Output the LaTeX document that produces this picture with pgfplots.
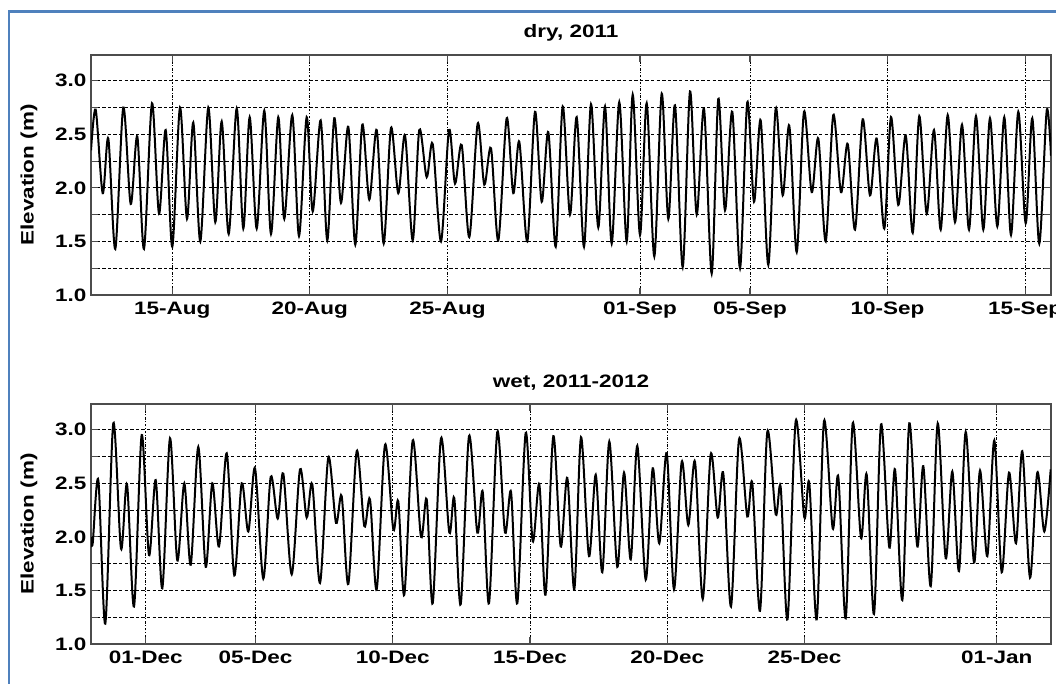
\documentclass[border=0pt]{standalone}
\usepackage{pgfplots}
\usepackage{pgfplotstable}
\pgfplotsset{compat=1.18}
\usepackage{fontspec}
\setmainfont{Liberation Sans}[FakeStretch=1.25]
\definecolor{frameblue}{RGB}{79,129,189}

% dry season 2011: days since 15-Aug-2011, elevation (m)
\pgfplotstableread{
t v
-2.955 2.35
-2.784 2.73
-2.530 1.95
-2.326 2.46
-2.072 1.43
-1.781 2.75
-1.512 1.85
-1.272 2.48
-1.029 1.43
-0.738 2.79
-0.483 1.76
-0.240 2.54
0.000 1.45
0.280 2.75
0.534 1.71
0.763 2.61
1.018 1.50
1.309 2.75
1.563 1.68
1.796 2.62
2.050 1.57
2.341 2.74
2.581 1.62
2.813 2.66
3.068 1.62
3.344 2.72
3.588 1.57
3.853 2.66
4.071 1.71
4.362 2.68
4.606 1.55
4.885 2.66
5.104 1.78
5.394 2.63
5.634 1.51
5.889 2.65
6.132 1.86
6.398 2.57
6.652 1.47
6.907 2.59
7.161 1.89
7.430 2.54
7.684 1.48
7.950 2.56
8.215 1.95
8.459 2.49
8.739 1.51
8.978 2.54
9.247 2.10
9.466 2.41
9.767 1.50
10.058 2.54
10.276 2.04
10.520 2.40
10.796 1.54
11.101 2.60
11.341 2.03
11.585 2.37
11.850 1.51
12.155 2.65
12.395 1.95
12.613 2.43
12.904 1.50
13.184 2.71
13.428 1.87
13.668 2.52
13.937 1.45
14.191 2.76
14.456 1.75
14.700 2.66
14.965 1.45
15.220 2.78
15.485 1.63
15.729 2.76
15.972 1.48
16.248 2.80
16.517 1.50
16.736 2.87
17.001 1.56
17.244 2.79
17.521 1.36
17.790 2.88
18.030 1.71
18.273 2.77
18.553 1.26
18.818 2.90
19.062 1.75
19.327 2.74
19.607 1.20
19.847 2.83
20.091 1.79
20.356 2.71
20.636 1.25
20.901 2.80
21.145 1.87
21.388 2.63
21.665 1.28
21.934 2.74
22.188 1.93
22.428 2.58
22.697 1.40
22.962 2.71
23.242 1.96
23.482 2.46
23.751 1.50
24.027 2.68
24.307 1.96
24.551 2.41
24.816 1.61
25.096 2.64
25.361 1.93
25.605 2.46
25.881 1.62
26.125 2.66
26.390 1.84
26.659 2.49
26.914 1.58
27.153 2.67
27.422 1.76
27.688 2.54
27.931 1.61
28.186 2.68
28.451 1.68
28.706 2.59
28.960 1.61
29.214 2.67
29.480 1.61
29.723 2.65
29.989 1.64
30.243 2.66
30.487 1.56
30.752 2.71
31.021 1.67
31.261 2.65
31.515 1.48
31.784 2.72
31.941 2.30
}\drytable

% wet season 2011-2012: days since 01-Dec-2011, elevation (m)
\pgfplotstableread{
t v
-1.993 2.00
-1.931 1.94
-1.727 2.53
-1.472 1.19
-1.180 3.06
-0.900 1.89
-0.681 2.49
-0.426 1.35
-0.146 2.95
0.120 1.83
0.364 2.53
0.605 1.52
0.885 2.92
1.151 1.78
1.406 2.50
1.639 1.74
1.916 2.84
2.186 1.72
2.426 2.50
2.670 1.91
2.951 2.78
3.228 1.64
3.497 2.50
3.738 2.05
3.982 2.64
4.284 1.61
4.554 2.56
4.809 2.17
5.013 2.59
5.319 1.65
5.621 2.63
5.865 2.18
6.069 2.49
6.350 1.57
6.652 2.74
6.933 2.13
7.140 2.38
7.381 1.56
7.687 2.80
7.964 2.10
8.171 2.35
8.415 1.51
8.718 2.86
9.020 2.07
9.202 2.33
9.421 1.46
9.727 2.90
10.029 2.00
10.237 2.35
10.455 1.38
10.758 2.92
11.060 2.04
11.242 2.36
11.475 1.37
11.778 2.94
12.080 2.04
12.277 2.42
12.506 1.38
12.809 2.98
13.089 2.04
13.308 2.42
13.537 1.38
13.843 2.97
14.098 1.96
14.339 2.49
14.565 1.46
14.849 2.94
15.118 1.91
15.359 2.55
15.614 1.51
15.858 2.93
16.149 1.82
16.394 2.58
16.634 1.67
16.889 2.89
17.180 1.72
17.425 2.60
17.669 1.79
17.909 2.85
18.215 1.60
18.470 2.64
18.710 1.94
18.980 2.78
19.246 1.51
19.526 2.70
19.767 2.11
20.011 2.70
20.292 1.42
20.583 2.77
20.838 2.18
21.042 2.59
21.322 1.35
21.614 2.91
21.916 2.19
22.098 2.50
22.379 1.31
22.645 2.98
22.951 2.21
23.133 2.46
23.381 1.23
23.680 3.08
23.993 2.18
24.175 2.50
24.445 1.23
24.710 3.08
25.027 2.08
25.231 2.56
25.501 1.24
25.756 3.06
26.058 1.99
26.266 2.58
26.532 1.28
26.787 3.05
27.090 1.90
27.297 2.63
27.563 1.41
27.818 3.06
28.109 1.91
28.328 2.66
28.598 1.54
28.853 3.06
29.144 1.80
29.384 2.61
29.629 1.68
29.873 2.98
30.175 1.76
30.394 2.62
30.659 1.82
30.914 2.90
31.184 1.67
31.450 2.60
31.705 1.94
31.934 2.80
32.215 1.62
32.481 2.60
32.736 2.05
32.969 2.63
}\wettable

\pgfplotsset{
  tidestyle/.style={
    scale only axis,
    width=720pt, height=180pt,
    anchor=south west,
    ymin=1, ymax=3.24,
    ytick={1,1.25,1.5,1.75,2,2.25,2.5,2.75,3},
    yticklabels={1.0,,1.5,,2.0,,2.5,,3.0},
    xmajorgrids, ymajorgrids,
    x grid style={black, line width=0.7pt, dash pattern=on 2pt off 1.2pt on 0.7pt off 1.2pt},
    y grid style={black, line width=0.75pt, dash pattern=on 2.6pt off 1.6pt},
    axis line style={black!70, line width=1pt},
    tick align=inside,
    tick pos=both,
    major tick length=5pt,
    tick style={black!70, line width=0.8pt},
    every tick label/.append style={font=\fontsize{13.5}{16}\selectfont\bfseries},
    xticklabel style={yshift=-1.5pt},
    title style={font=\fontsize{13.5}{16}\selectfont\bfseries, yshift=1pt},
    ylabel={Elevation (m)},
    every axis y label/.style={at={(axis description cs:0,0.5)}, xshift=-46.5pt, rotate=90, anchor=center, font=\fontsize{13.5}{16}\selectfont\bfseries},
  }
}

\begin{document}
\begin{tikzpicture}
\useasboundingbox (0pt,0pt) rectangle (792pt,512.25pt);
\fill[white] (0pt,0pt) rectangle (792pt,512.25pt);
\draw[frameblue, line width=1.6pt] (6.75pt,-10pt) -- (6.75pt,503.6pt) -- (800pt,503.6pt);

\begin{axis}[tidestyle,
  at={(68.25pt,291pt)},
  title={dry, 2011},
  xmin=-2.955, xmax=31.941,
  xtick={0,5,10,17,21,26,31},
  xticklabels={15-Aug,20-Aug,25-Aug,01-Sep,05-Sep,10-Sep,15-Sep},
]
\addplot[black, line width=1.5pt, smooth, tension=0.5] table[x=t, y=v] {\drytable};
\end{axis}

\begin{axis}[tidestyle,
  at={(68.25pt,29.25pt)},
  title={wet, 2011-2012},
  xmin=-1.993, xmax=32.98,
  xtick={0,4,9,14,19,24,31},
  xticklabels={01-Dec,05-Dec,10-Dec,15-Dec,20-Dec,25-Dec,01-Jan},
]
\addplot[black, line width=1.5pt, smooth, tension=0.5] table[x=t, y=v] {\wettable};
\end{axis}
\end{tikzpicture}
\end{document}
